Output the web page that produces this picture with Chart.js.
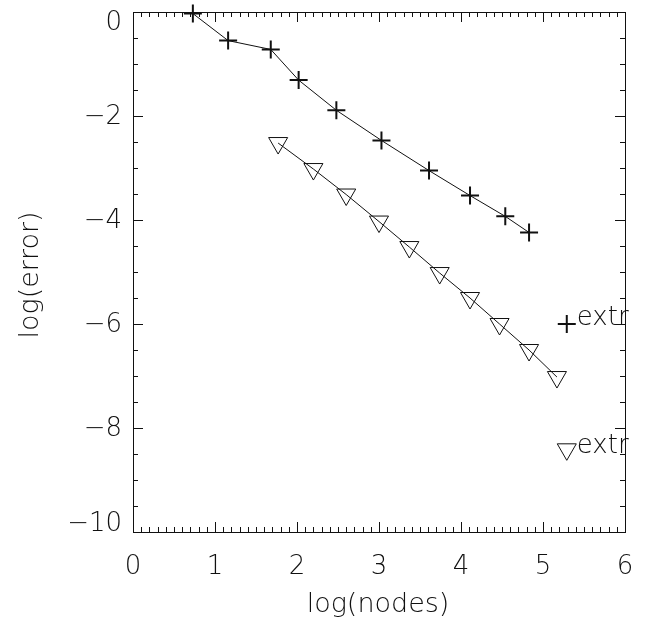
<!DOCTYPE html>
<html>
<head>
<meta charset="utf-8">
<script src="https://cdn.jsdelivr.net/npm/chart.js@4"></script>
<style>
  body { margin: 0; background: #fff; }
  #wrap { width: 650px; height: 619px; }
</style>
</head>
<body>
<div id="wrap"><canvas id="errChart"></canvas></div>
<script>
// data
const plusX = [0.73, 1.16, 1.68, 2.02, 2.48, 3.03, 3.61, 4.11, 4.54, 4.83];
const plusY = [-0.03, -0.55, -0.72, -1.31, -1.89, -2.47, -3.05, -3.53, -3.93, -4.24];
const triX = [1.77, 2.20, 2.60, 3.00, 3.37, 3.74, 4.11, 4.47, 4.83, 5.17];
const triY = [-2.52, -3.02, -3.51, -4.03, -4.52, -5.02, -5.50, -6.00, -6.50, -7.02];
const extrPlus = [5.29, -6.0];
const extrTri = [5.29, -8.41];
const extrLabel = "extr";

const xTickLabels = ["0", "1", "2", "3", "4", "5", "6"];
const yTickLabels = ["\u221210", "\u22128", "\u22126", "\u22124", "\u22122", "0"];
const xTitle = "log(nodes)";
const yTitle = "log(error)";

const FONT = '200 26px "DejaVu Sans"';
const TITLE_FONT = '200 27px "DejaVu Sans"';
const INK = "#111";

function pts(xs, ys) {
    return xs.map((x, i) => ({x: x, y: ys[i]}));
}

// frame, inward ticks, labels (IDL look)
const idlAxes = {
    id: "idlAxes",
    afterDraw(chart) {
        const ctx = chart.ctx;
        const {left, right, top, bottom} = chart.chartArea;
        const xs = chart.scales.x;
        const ys = chart.scales.y;
        ctx.save();
        ctx.strokeStyle = INK;
        ctx.lineWidth = 1;
        ctx.strokeRect(left + 0.5, top + 0.5, right - left, bottom - top);

        ctx.beginPath();
        for (let i = 0; i <= 60; i++) {
            const px = Math.round(xs.getPixelForValue(i / 10)) + 0.5;
            const len = i % 10 === 0 ? 10 : 5;
            ctx.moveTo(px, bottom);
            ctx.lineTo(px, bottom - len);
            ctx.moveTo(px, top);
            ctx.lineTo(px, top + len);
        }
        for (let i = 0; i <= 20; i++) {
            const py = Math.round(ys.getPixelForValue(-10 + i / 2)) + 0.5;
            const len = i % 4 === 0 ? 10 : 5;
            ctx.moveTo(left, py);
            ctx.lineTo(left + len, py);
            ctx.moveTo(right, py);
            ctx.lineTo(right - len, py);
        }
        ctx.stroke();

        ctx.fillStyle = INK;
        ctx.font = FONT;
        ctx.textAlign = "center";
        ctx.textBaseline = "middle";
        xs.ticks.forEach(t => {
            ctx.fillText(t.label, xs.getPixelForValue(t.value), bottom + 35);
        });
        ctx.textAlign = "right";
        ys.ticks.forEach(t => {
            let py = ys.getPixelForValue(t.value) + 1;
            py = Math.min(Math.max(py, top + 11), bottom - 8);
            ctx.fillText(t.label, left - 11, py);
        });

        // labels beside the extrapolated points
        ctx.textAlign = "left";
        ctx.textBaseline = "alphabetic";
        [[extrPlus, 1], [extrTri, 4]].forEach(([p, dy]) => {
            const px = xs.getPixelForValue(p[0]);
            const py = ys.getPixelForValue(p[1]);
            ctx.fillText(extrLabel, px + 10, py + dy);
        });

        ctx.font = TITLE_FONT;
        ctx.textAlign = "center";
        ctx.fillText(xTitle, (left + right) / 2 - 1, 612);
        ctx.save();
        ctx.translate(38, 275);
        ctx.rotate(-Math.PI / 2);
        ctx.fillText(yTitle, 0, 0);
        ctx.restore();
        ctx.restore();
    }
};

const ctx = document.getElementById("errChart").getContext("2d");
const chart = new Chart(ctx, {
    type: "scatter",
    data: {
        datasets: [
            {
                data: pts(plusX, plusY),
                showLine: true,
                borderColor: INK,
                borderWidth: 1,
                pointStyle: "cross",
                pointRadius: 9,
                pointBorderWidth: 2,
                pointBorderColor: INK,
                clip: false
            },
            {
                data: pts(triX, triY),
                showLine: true,
                borderColor: INK,
                borderWidth: 1,
                pointStyle: "triangle",
                rotation: 180,
                pointRadius: 11,
                pointBorderWidth: 1,
                pointBorderColor: INK,
                pointBackgroundColor: "rgba(0,0,0,0)",
                clip: false
            },
            {
                data: [{x: extrPlus[0], y: extrPlus[1]}],
                pointStyle: "cross",
                pointRadius: 9,
                pointBorderWidth: 2,
                pointBorderColor: INK,
                clip: false
            },
            {
                data: [{x: extrTri[0], y: extrTri[1]}],
                pointStyle: "triangle",
                rotation: 180,
                pointRadius: 11,
                pointBorderWidth: 1,
                pointBorderColor: INK,
                pointBackgroundColor: "rgba(0,0,0,0)",
                clip: false
            }
        ]
    },
    options: {
        responsive: true,
        maintainAspectRatio: false,
        animation: false,
        layout: {padding: {top: 5, right: 25, left: 0, bottom: 0}},
        plugins: {legend: {display: false}, tooltip: {enabled: false}},
        scales: {
            x: {
                type: "linear",
                min: 0, max: 6,
                grid: {display: false},
                border: {display: false},
                ticks: {display: false, stepSize: 1, callback: v => xTickLabels[Math.round(v)]},
                afterFit: s => { s.height = 87; }
            },
            y: {
                type: "linear",
                min: -10, max: 0,
                grid: {display: false},
                border: {display: false},
                ticks: {display: false, stepSize: 2, callback: v => yTickLabels[Math.round((v + 10) / 2)]},
                afterFit: s => { s.width = 133; }
            }
        }
    },
    plugins: [idlAxes]
});
</script>
</body>
</html>
